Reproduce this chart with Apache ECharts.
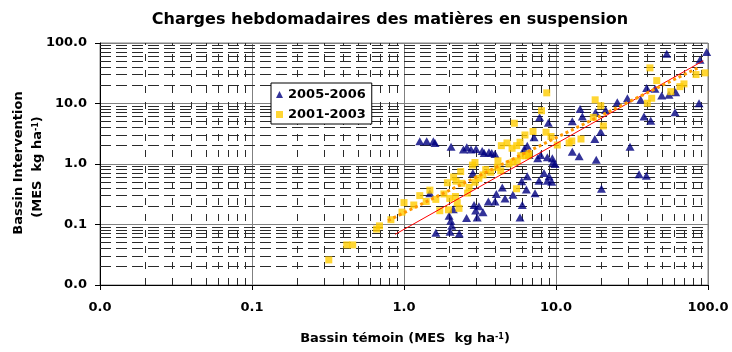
<!DOCTYPE html>
<html>
<head>
<meta charset="utf-8">
<script src="https://cdn.jsdelivr.net/npm/echarts@6/dist/echarts.min.js"></script>
<style>
  html, body { margin: 0; padding: 0; background: #fff; }
  #chart { width: 732px; height: 352px; }
</style>
</head>
<body>
<div id="chart"></div>
<script>
// Weekly suspended-solids loads: control basin (x) vs treated basin (y), kg/ha
const seriesNames = ['2005-2006', '2001-2003'];

const loads2005 = [
  [53.5, 66.2], [98, 70.7], [88.6, 52.7], [39.5, 18.1], [44.8, 17.5], [49.6, 13.5], [55.4, 14.0],
  [61.3, 15.4], [36.1, 11.5], [29.5, 12.2], [25.3, 10.5], [87.3, 10.1], [21.2, 7.8], [18.2, 7.2],
  [14.4, 8.1], [14.9, 6.1], [37.9, 6.1], [42.0, 5.2], [60.7, 7.2], [12.8, 5.1], [8.9, 4.8],
  [7.8, 5.9], [19.7, 3.4], [18.0, 2.6], [12.8, 1.6], [14.2, 1.34], [18.4, 1.18], [30.7, 1.93],
  [35.2, 0.68], [39.3, 0.64], [19.9, 0.39],
  [1.27, 2.38], [1.41, 2.38], [1.56, 2.38], [1.60, 2.23], [2.04, 1.93], [2.46, 1.73], [2.59, 1.89],
  [2.76, 1.73], [2.98, 1.77], [3.27, 1.64], [3.37, 1.52], [3.62, 1.56], [3.78, 1.52], [3.97, 1.47],
  [6.47, 2.01], [6.18, 1.77], [6.64, 1.41], [7.58, 1.24], [7.17, 2.77], [8.77, 1.29], [9.46, 1.24],
  [9.55, 1.07], [7.93, 1.41], [9.85, 1.0], [2.84, 0.71], [8.34, 0.71], [9.0, 0.63], [6.47, 0.63],
  [7.73, 0.53], [8.77, 0.53], [9.37, 0.51], [5.95, 0.52], [4.43, 0.41], [6.38, 0.38], [7.28, 0.33],
  [4.05, 0.32], [5.21, 0.31], [4.62, 0.27], [3.59, 0.24], [3.97, 0.24], [6.0, 0.21], [2.89, 0.21],
  [3.11, 0.20], [3.31, 0.16], [2.96, 0.17], [2.58, 0.128], [3.03, 0.13], [5.8, 0.13], [1.48, 0.33],
  [2.11, 0.178], [1.98, 0.14], [2.03, 0.115], [2.06, 0.095], [1.62, 0.073], [2.01, 0.076], [2.31, 0.071]
];

const loads2001 = [
  [41.5, 38.8], [46.0, 23.9], [83.4, 30.1], [95.5, 32.1], [65.4, 19.0], [69.5, 21.1], [56.9, 15.7],
  [42.6, 12.2], [39.9, 10.1], [18.1, 11.5], [19.7, 9.2], [17.6, 5.9], [20.5, 4.26], [12.7, 2.40],
  [14.6, 2.59], [12.2, 2.23], [8.03, 7.6], [8.69, 15.0], [5.32, 4.72], [6.25, 3.02], [7.06, 3.45],
  [8.6, 3.35], [9.27, 2.85], [10.2, 2.06], [4.37, 2.01], [4.76, 2.23], [5.14, 1.82], [5.8, 2.29],
  [5.51, 2.01], [6.57, 1.37], [5.86, 1.37], [4.15, 1.13], [2.93, 1.06], [2.82, 0.96], [2.36, 0.75],
  [2.12, 0.61], [1.93, 0.49], [2.20, 0.52], [2.40, 0.48], [3.45, 0.81], [3.31, 0.66], [3.72, 0.73],
  [4.11, 0.88], [4.33, 0.77], [4.91, 1.0], [5.21, 1.07], [5.56, 1.13], [6.32, 1.37], [6.64, 1.47],
  [3.11, 0.58], [2.93, 0.50], [2.68, 0.41], [5.5, 0.39], [1.83, 0.32], [2.62, 0.33], [2.18, 0.29],
  [2.0, 0.27], [2.24, 0.23], [2.30, 0.185], [1.96, 0.175], [1.72, 0.169], [1.48, 0.37], [1.27, 0.30],
  [1.40, 0.24], [1.62, 0.26], [1.16, 0.21], [1.0, 0.23], [0.97, 0.16], [0.82, 0.12], [0.69, 0.095],
  [0.66, 0.084], [0.42, 0.046], [0.46, 0.046], [0.32, 0.026]
];

// Power-law trend lines (end points)
const trend2005 = [[0.873, 0.0686], [93.1, 50.8]];
const trend2001 = [[0.785, 0.116], [86, 39]];

// Axis decades and their labels
const decades = [0.01, 0.1, 1, 10, 100];
const tickLabels = ['0.0', '0.1', '1.0', '10.0', '100.0'];
const minorSteps = [2, 3, 4, 5, 6, 7, 8, 9];

const FONT = 'DejaVu Sans';

const minorValues = [];
decades.slice(0, -1).forEach(d => minorSteps.forEach(k => minorValues.push(d * k)));

function labelFor(v) {
  const idx = Math.round(Math.log10(v)) + 2;
  return tickLabels[idx] !== undefined ? tickLabels[idx] : '';
}

// Dashed grid lines at 2..9 of each decade
function minorGrid(horizontal) {
  return {
    type: 'custom',
    silent: true,
    z: 1,
    data: minorValues.map(v => horizontal ? [1, v] : [v, 1]),
    renderItem(params, api) {
      const cs = params.coordSys;
      const p = api.coord([api.value(0), api.value(1)]);
      if (horizontal) {
        const y = Math.floor(p[1]) + 0.5;
        return {
          type: 'line',
          shape: { x1: cs.x, y1: y, x2: cs.x + cs.width, y2: y },
          style: { stroke: '#2a2a2a', lineWidth: 1, lineDash: [11, 5] }
        };
      }
      const x = Math.floor(p[0]) + 0.5;
      return {
        type: 'line',
        shape: { x1: x, y1: cs.y + cs.height, x2: x, y2: cs.y },
        style: { stroke: '#2a2a2a', lineWidth: 1, lineDash: [7, 9] }
      };
    }
  };
}

const axisCommon = {
  type: 'log',
  logBase: 10,
  min: decades[0],
  max: decades[decades.length - 1],
  axisLine: { show: true, onZero: false, lineStyle: { color: '#000', width: 1 } },
  axisTick: { show: true, length: 5, lineStyle: { color: '#000' } },
  splitLine: { show: true, lineStyle: { color: '#808080', width: 1 } },
  minorTick: { show: false },
  minorSplitLine: { show: false }
};

const boldText = { fontFamily: FONT, fontWeight: 'bold', fontSize: 13, color: '#000' };
const supText = { fontFamily: FONT, fontWeight: 'bold', fontSize: 8, color: '#000', verticalAlign: 'top' };

const chart = echarts.init(document.getElementById('chart'), null, { renderer: 'canvas' });

chart.setOption({
  animation: false,
  backgroundColor: '#fff',
  grid: {
    left: 100, top: 43, width: 608, height: 242,
    show: true, borderColor: '#808080', borderWidth: 1, backgroundColor: '#fff'
  },
  xAxis: Object.assign({}, axisCommon, {
    axisLabel: Object.assign({ margin: 16, formatter: labelFor }, boldText)
  }),
  yAxis: Object.assign({}, axisCommon, {
    axisLabel: Object.assign({ margin: 13, formatter: labelFor }, boldText)
  }),
  legend: {
    data: [
      { name: seriesNames[0], icon: 'triangle' },
      { name: seriesNames[1], icon: 'rect' }
    ],
    orient: 'vertical',
    left: 271,
    top: 83,
    itemWidth: 7,
    itemHeight: 7,
    itemGap: 7,
    padding: [5, 6, 3, 5],
    backgroundColor: '#fff',
    borderColor: '#000',
    borderWidth: 1,
    selectedMode: false,
    textStyle: boldText
  },
  graphic: [
    {
      type: 'text', x: 390, y: 20, z: 10,
      style: {
        text: 'Charges hebdomadaires des matières en suspension',
        fontFamily: FONT, fontWeight: 'bold', fontSize: 16, fill: '#000',
        align: 'center', verticalAlign: 'middle'
      }
    },
    {
      type: 'text', x: 405, y: 339, z: 10,
      style: {
        text: '{b|Bassin témoin (MES  kg ha}{s|-1}{b|)}',
        rich: { b: boldText, s: supText },
        align: 'center', verticalAlign: 'middle'
      }
    },
    {
      type: 'text', x: 19, y: 163, rotation: Math.PI / 2, z: 10,
      style: {
        text: 'Bassin Intervention',
        fontFamily: FONT, fontWeight: 'bold', fontSize: 13, fill: '#000',
        align: 'center', verticalAlign: 'middle'
      }
    },
    {
      type: 'text', x: 38, y: 167, rotation: Math.PI / 2, z: 10,
      style: {
        text: '{b|(MES  kg ha}{s|-1}{b|)}',
        rich: { b: boldText, s: supText },
        align: 'center', verticalAlign: 'middle'
      }
    }
  ],
  series: [
    minorGrid(true),
    minorGrid(false),
    {
      name: seriesNames[0],
      type: 'scatter',
      data: loads2005,
      symbol: 'triangle',
      symbolSize: [9, 8],
      itemStyle: { color: '#000080' },
      z: 3
    },
    {
      name: seriesNames[1],
      type: 'scatter',
      data: loads2001,
      symbol: 'rect',
      symbolSize: 7,
      itemStyle: { color: '#ffcc00' },
      z: 3
    },
    {
      name: 'tendance 2005-2006',
      type: 'line',
      data: trend2005,
      symbol: 'none',
      silent: true,
      lineStyle: { color: '#ff0000', width: 1 },
      z: 4
    },
    {
      name: 'tendance 2001-2003',
      type: 'line',
      data: trend2001,
      symbol: 'none',
      silent: true,
      lineStyle: { color: '#ff9900', width: 3, type: [3, 3] },
      z: 4
    }
  ]
});
</script>
</body>
</html>
